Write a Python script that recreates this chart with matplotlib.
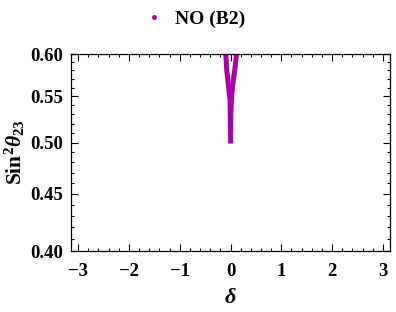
import numpy as np
import matplotlib
matplotlib.use("Agg")
import matplotlib.pyplot as plt
from matplotlib.lines import Line2D
from matplotlib.ticker import FixedLocator, FixedFormatter, NullFormatter

plt.rcParams['font.family'] = ['Liberation Serif', 'DejaVu Serif']
plt.rcParams['font.weight'] = 'bold'
plt.rcParams['mathtext.fontset'] = 'custom'
plt.rcParams['mathtext.rm'] = 'Liberation Serif:bold'
plt.rcParams['mathtext.bf'] = 'Liberation Serif:bold'
plt.rcParams['mathtext.it'] = 'Liberation Serif:bold:italic'

# Data (band centre lines)
left_delta = [-0.093, -0.075, -0.045, -0.010, -0.004, 0.000, 0.004]
left_s23 = [0.600, 0.581, 0.565, 0.546, 0.527, 0.510, 0.499]
right_delta = [0.118, 0.085, 0.047, 0.020, 0.006, 0.004]
right_s23 = [0.600, 0.581, 0.565, 0.548, 0.530, 0.510]

xticks = [-3, -2, -1, 0, 1, 2, 3]
yticks = [0.40, 0.45, 0.50, 0.55, 0.60]
ytick_labels = ['0.40', '0.45', '0.50', '0.55', '0.60']
legend_label = 'NO (B2)'

color = '#AA00AA'

fig = plt.figure(figsize=(3.96, 3.12), dpi=100)
ax = fig.add_axes([71/396, 1-251/312, (390-71)/396, (251-54)/312])

ax.plot(left_delta, left_s23, color=color, lw=3.6, solid_capstyle='butt', solid_joinstyle='miter')
ax.plot(right_delta, right_s23, color=color, lw=3.6, solid_capstyle='butt', solid_joinstyle='miter')

ax.set_yscale('log')
ax.set_xlim(-np.pi, np.pi)
ax.set_ylim(0.40, 0.60)

ax.yaxis.set_major_locator(FixedLocator(yticks))
ax.yaxis.set_major_formatter(FixedFormatter(ytick_labels))
ax.yaxis.set_minor_locator(FixedLocator([0.40 + 0.01*i for i in range(21)]))
ax.yaxis.set_minor_formatter(NullFormatter())
ax.set_xticks(xticks)
ax.set_xticklabels(['\u22123', '\u22122', '\u22121', '0', '1', '2', '3'])
ax.xaxis.set_minor_locator(FixedLocator([x/5 for x in range(-15, 16)]))

ax.tick_params(which='both', direction='in', top=True, right=True, width=0.8, colors='black')
ax.tick_params(which='major', length=5, labelsize=13.5)
ax.tick_params(axis='y', which='major', pad=6)
ax.tick_params(axis='x', which='major', pad=9)
ax.tick_params(which='minor', length=2.5)
for lab in ax.get_xticklabels() + ax.get_yticklabels():
    lab.set_fontweight('bold')
for s in ax.spines.values():
    s.set_linewidth(0.9)

ax.set_ylabel(r'$\mathrm{Sin}^{2}\theta_{23}$', fontsize=15.5)
ax.yaxis.set_label_coords(-0.137, 0.5)
ax.set_xlabel(r'$\delta$', fontsize=16, labelpad=6)

handle = Line2D([], [], marker='o', ls='', color=color, markersize=2.5)
fig.legend([handle], [legend_label], loc='center', bbox_to_anchor=(0.49, 0.94),
           frameon=False, prop={'weight': 'bold', 'size': 14}, handletextpad=0.5, handlelength=1.2)

fig.savefig('out.png', dpi=100)
